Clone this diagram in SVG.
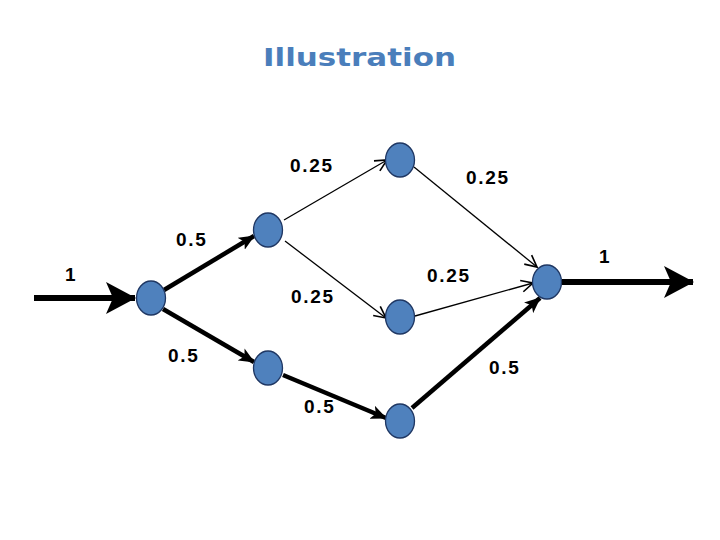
<svg xmlns="http://www.w3.org/2000/svg" width="720" height="540" viewBox="0 0 720 540">
<style>
.node{fill:#4f81bd;stroke:#1f3763;stroke-width:1.3}
.thin{stroke:#000;stroke-width:1.3;fill:none;marker-end:url(#openArrow)}
.thick{stroke:#000;stroke-width:4.5;fill:none;marker-end:url(#barb)}
.big{stroke:#000;stroke-width:6;fill:none;marker-end:url(#bigBarb)}
.lbl{font-family:"Liberation Sans",Arial,sans-serif;font-weight:bold;font-size:19px;letter-spacing:1.7px;fill:#000}
.title{font-family:"DejaVu Sans","Liberation Sans",sans-serif;font-weight:bold;font-size:25px;fill:#4a7ebb}
</style>
<defs>
<marker id="openArrow" markerUnits="userSpaceOnUse" markerWidth="14" markerHeight="14" viewBox="0 0 12 12" refX="11" refY="6" orient="auto">
<path d="M1,1 L11,6 L1,11" fill="none" stroke="#000" stroke-width="1.4"/>
</marker>
<marker id="barb" markerUnits="userSpaceOnUse" markerWidth="16" markerHeight="14" viewBox="0 0 16 14" refX="15" refY="7" orient="auto">
<path d="M0,0 L16,7 L0,14 L4,7 z" fill="#000"/>
</marker>
<marker id="bigBarb" markerUnits="userSpaceOnUse" markerWidth="30" markerHeight="32" viewBox="0 0 30 32" refX="29" refY="16" orient="auto">
<path d="M0,0 L30,16 L0,32 L7,16 z" fill="#000"/>
</marker>
</defs>
<text class="title" x="263" y="66" textLength="193" lengthAdjust="spacingAndGlyphs">Illustration</text>
<g id="connectors">
<line class="big" x1="34" y1="298" x2="135" y2="298"/>
<line class="big" x1="562" y1="282" x2="693" y2="282"/>
<line class="thick" x1="164" y1="290" x2="254" y2="236"/>
<line class="thick" x1="163" y1="309" x2="254" y2="362"/>
<line class="thick" x1="283" y1="375" x2="386" y2="418"/>
<line class="thick" x1="412" y1="408" x2="540" y2="298"/>
<line class="thin" x1="284" y1="220" x2="387" y2="160"/>
<line class="thin" x1="414" y1="167" x2="537" y2="267"/>
<line class="thin" x1="285" y1="241" x2="386" y2="318"/>
<line class="thin" x1="415" y1="316" x2="533" y2="283"/>
</g>
<g id="nA"><ellipse class="node" cx="151" cy="298" rx="14.5" ry="17"/></g>
<g id="nB"><ellipse class="node" cx="268" cy="230" rx="14.5" ry="17"/></g>
<g id="nC"><ellipse class="node" cx="400" cy="160" rx="14.5" ry="17"/></g>
<g id="nD"><ellipse class="node" cx="400" cy="317" rx="14.5" ry="17"/></g>
<g id="nE"><ellipse class="node" cx="268" cy="368" rx="14.5" ry="17"/></g>
<g id="nF"><ellipse class="node" cx="400" cy="421" rx="14.5" ry="17"/></g>
<g id="nG"><ellipse class="node" cx="547" cy="282" rx="14.5" ry="17"/></g>
<g id="labels">
<text class="lbl" x="290" y="172">0.25</text>
<text class="lbl" x="466" y="184">0.25</text>
<text class="lbl" x="176" y="246">0.5</text>
<text class="lbl" x="65" y="281">1</text>
<text class="lbl" x="291" y="303">0.25</text>
<text class="lbl" x="427" y="282">0.25</text>
<text class="lbl" x="599" y="263">1</text>
<text class="lbl" x="168" y="362">0.5</text>
<text class="lbl" x="489" y="374">0.5</text>
<text class="lbl" x="304" y="413">0.5</text>
</g>
</svg>
